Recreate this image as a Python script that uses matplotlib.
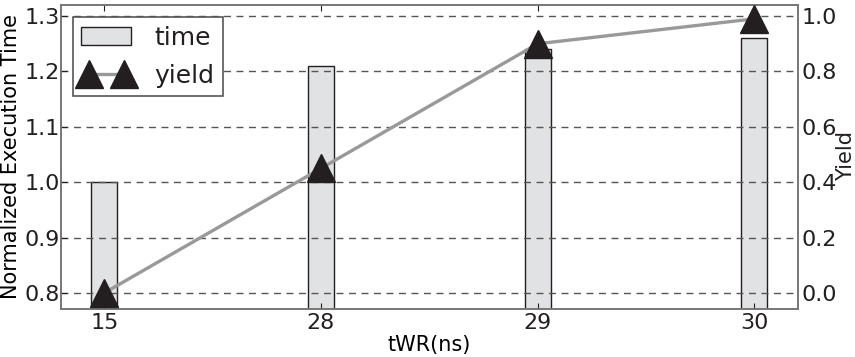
import matplotlib
matplotlib.use('Agg')
import matplotlib.pyplot as plt
import numpy as np

# data
twr = ['15', '28', '29', '30']
exec_time = [1.0, 1.21, 1.24, 1.26]
yield_vals = [0.0, 0.45, 0.90, 0.99]

ink = '#231f20'
plt.rcParams['font.family'] = 'DejaVu Sans'
plt.rcParams['text.color'] = ink
plt.rcParams['xtick.color'] = ink
plt.rcParams['ytick.color'] = ink

x = np.arange(len(twr))

fig = plt.figure(figsize=(8.55, 3.57), dpi=100)
ax1 = fig.add_axes([0.0713, 0.1345, 0.8617, 0.8515])

# bars: normalized execution time
bars = ax1.bar(x, exec_time, width=0.12, color='#e1e2e4', edgecolor=ink,
               linewidth=1.0, label='time', zorder=2)
ax1.set_ylim(0.771, 1.32)
ax1.set_yticks([0.8, 0.9, 1.0, 1.1, 1.2, 1.3])
ax1.set_xlim(-0.2, 3.2)
ax1.set_xticks(x)
ax1.set_xticklabels(twr)
ax1.set_xlabel('tWR(ns)', fontsize=15, labelpad=1)
ax1.set_ylabel('Normalized Execution Time', fontsize=15, labelpad=2)
ax1.set_axisbelow(False)
ax1.yaxis.grid(True, linestyle=(0, (5, 4)), color='#555555', linewidth=1.0)
ax1.tick_params(axis='both', labelsize=16, direction='in', length=4)
ax1.tick_params(axis='x', top=True, pad=3)
ax1.tick_params(axis='y', left=False, pad=1)

# line: yield on right axis
ax2 = ax1.twinx()
line, = ax2.plot(x, yield_vals, color='#999999', linewidth=2.4, marker='^',
                 markersize=20, markerfacecolor=ink, markeredgecolor=ink,
                 label='yield', zorder=3)
ax2.set_ylim(-0.058, 1.04)
ax2.set_yticks([0.0, 0.2, 0.4, 0.6, 0.8, 1.0])
ax2.tick_params(axis='y', labelsize=16, direction='in', length=0, pad=3)
fig.text(0.9895, 0.563, 'Yield', fontsize=15, rotation=90,
         ha='center', va='center')

for ax in (ax1, ax2):
    for s in ax.spines.values():
        s.set_color('#777777')
        s.set_linewidth(1.2)

leg = ax2.legend([bars, line], ['time', 'yield'], loc='upper left',
                 fontsize=18, numpoints=2, fancybox=False, framealpha=1,
                 edgecolor='#555555', handlelength=2.0, borderpad=0.35,
                 labelspacing=0.55, handletextpad=0.9, borderaxespad=0,
                 bbox_to_anchor=(0.016, 0.96))
leg.get_frame().set_linewidth(1.2)

fig.savefig('out.png', dpi=100)
